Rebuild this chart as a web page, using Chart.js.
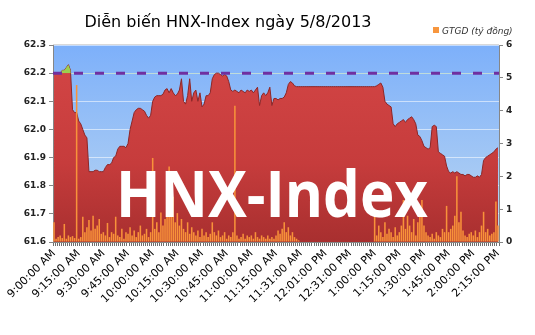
<!DOCTYPE html>
<html>
<head>
<meta charset="utf-8">
<script src="https://cdn.jsdelivr.net/npm/chart.js@4.4.1/dist/chart.umd.min.js"></script>
<style>
    html, body { margin: 0; padding: 0; background: #fff; }
</style>
</head>
<body>
<canvas id="myChart" width="535" height="335"></canvas>
<script>
// tick labels on the time axis (one every 12 sessions)
var timeTicks = ['9:00:00 AM', '9:15:00 AM', '9:30:00 AM', '9:45:00 AM', '10:00:00 AM', '10:15:00 AM',
    '10:30:00 AM', '10:45:00 AM', '11:00:00 AM', '11:15:00 AM', '11:31:00 AM', '12:01:00 PM',
    '12:31:00 PM', '1:00:00 PM', '1:15:00 PM', '1:30:00 PM', '1:45:00 PM', '2:00:00 PM', '2:15:00 PM'];
var tickEvery = 12;

// HNX-Index level
var hnxIndex = [
    62.20, 62.20, 62.20, 62.20, 62.21, 62.21, 62.22, 62.23, 62.21, 62.07, 62.06, 62.06,
    62.03, 62.02, 62.00, 61.98, 61.97, 61.85, 61.85, 61.85, 61.855, 61.855, 61.85, 61.85,
    61.85, 61.865, 61.875, 61.875, 61.88, 61.90, 61.905, 61.93, 61.94, 61.94, 61.94, 61.935,
    61.95, 62.00, 62.03, 62.06, 62.07, 62.075, 62.075, 62.07, 62.065, 62.05, 62.04, 62.05,
    62.10, 62.115, 62.12, 62.12, 62.12, 62.125, 62.14, 62.145, 62.13, 62.145, 62.13, 62.12,
    62.125, 62.14, 62.18, 62.10, 62.09, 62.12, 62.18, 62.10, 62.13, 62.14, 62.10, 62.13,
    62.08, 62.09, 62.12, 62.12, 62.13, 62.18, 62.195, 62.20, 62.20, 62.195, 62.19, 62.195,
    62.19, 62.17, 62.14, 62.135, 62.14, 62.135, 62.13, 62.14, 62.135, 62.13, 62.14, 62.135,
    62.14, 62.13, 62.14, 62.15, 62.085, 62.12, 62.13, 62.12, 62.13, 62.15, 62.085, 62.11,
    62.11, 62.105, 62.11, 62.11, 62.115, 62.13, 62.16, 62.17, 62.165, 62.155, 62.152, 62.152,
    62.152, 62.152, 62.152, 62.152, 62.152, 62.152, 62.152, 62.152, 62.152, 62.152, 62.152, 62.152,
    62.152, 62.152, 62.152, 62.152, 62.152, 62.152, 62.152, 62.152, 62.152, 62.152, 62.152, 62.152,
    62.152, 62.152, 62.152, 62.152, 62.152, 62.152, 62.152, 62.152, 62.152, 62.152, 62.152, 62.152,
    62.152, 62.155, 62.16, 62.165, 62.15, 62.10, 62.09, 62.085, 62.08, 62.02, 62.01, 62.02,
    62.025, 62.03, 62.035, 62.025, 62.035, 62.04, 62.045, 62.035, 62.02, 61.98, 61.975, 61.96,
    61.94, 61.935, 61.93, 61.935, 62.01, 62.015, 62.01, 61.92, 61.915, 61.91, 61.905, 61.87,
    61.85, 61.845, 61.85, 61.845, 61.85, 61.845, 61.84, 61.84, 61.835, 61.84, 61.84, 61.835,
    61.83, 61.83, 61.835, 61.83, 61.84, 61.89, 61.90, 61.905, 61.91, 61.915, 61.92, 61.93, 61.935
];

// GTGD (ty dong) per session
var gtgd = [
    0.6, 0.1, 0.15, 0.2, 0.12, 0.55, 0.1, 0.2, 0.15, 0.18, 0.12, 4.78,
    0.1, 0.15, 0.77, 0.3, 0.45, 0.67, 0.35, 0.8, 0.4, 0.5, 0.7, 0.25,
    0.3, 0.2, 0.58, 0.15, 0.3, 0.25, 0.77, 0.2, 0.15, 0.4, 0.1, 0.3,
    0.25, 0.45, 0.2, 0.35, 0.15, 0.3, 0.5, 0.2, 0.25, 0.4, 0.15, 0.3,
    2.56, 0.4, 0.6, 0.3, 0.9, 0.5, 0.7, 1.1, 2.3, 0.8, 1.38, 0.6,
    0.88, 0.5, 0.7, 0.4, 0.3, 0.6, 0.25, 0.45, 0.3, 0.2, 0.35, 0.15,
    0.4, 0.2, 0.3, 0.15, 0.25, 0.6, 0.3, 0.2, 0.35, 0.15, 0.2, 0.3,
    0.1, 0.2, 0.15, 0.3, 4.15, 0.2, 0.1, 0.15, 0.25, 0.1, 0.2, 0.15,
    0.2, 0.1, 0.3, 0.15, 0.1, 0.2, 0.15, 0.1, 0.2, 0.1, 0.15, 0.1,
    0.2, 0.35, 0.25, 0.4, 0.6, 0.3, 0.45, 0.2, 0.3, 0.15, 0.1, 0.05,
    0, 0, 0, 0, 0, 0, 0, 0, 0, 0, 0, 0,
    0, 0, 0, 0, 0, 0, 0, 0, 0, 0, 0, 0,
    0, 0, 0, 0, 0, 0, 0, 0, 0, 0, 0, 0,
    0.77, 0.2, 0.5, 0.3, 0.15, 0.6, 0.25, 0.4, 0.3, 0.15, 0.45, 0.2,
    0.3, 0.5, 1.28, 0.4, 0.8, 0.5, 0.3, 0.7, 0.2, 0.6, 0.9, 1.28,
    0.5, 0.3, 0.2, 0.15, 0.25, 0.1, 0.3, 0.2, 0.15, 0.4, 0.3, 1.1,
    0.3, 0.4, 0.5, 0.8, 2.0, 0.6, 0.92, 0.35, 0.2, 0.15, 0.25, 0.3,
    0.2, 0.35, 0.15, 0.3, 0.5, 0.92, 0.3, 0.4, 0.2, 0.25, 0.3, 1.23, 0.5
];

var refLevel = 62.2; // tham chieu
var chartTitle = 'Diễn biến HNX-Index ngày 5/8/2013';
var legendText = 'GTGD (tỷ đồng)';

// one category per session, label only every 12th
var labels = hnxIndex.map(function (v, i) {
    return i % tickEvery === 0 ? timeTicks[i / tickEvery] : '';
});

var decor = {
    id: 'decor',
    beforeDraw: function (chart) {
        var c = chart.ctx, a = chart.chartArea;
        var g = c.createLinearGradient(0, a.top, 0, a.bottom);
        g.addColorStop(0, '#7db0fa');
        g.addColorStop(1, '#bcd7f1');
        c.save();
        c.fillStyle = g;
        c.fillRect(a.left, a.top, a.right - a.left, a.bottom - a.top);
        c.strokeStyle = '#d9d9d9';
        c.lineWidth = 1;
        c.beginPath();
        c.moveTo(a.left, a.top - 0.5);
        c.lineTo(a.right, a.top - 0.5);
        c.stroke();
        // title
        c.fillStyle = '#000';
        c.font = '16px "DejaVu Sans"';
        c.textAlign = 'center';
        c.textBaseline = 'alphabetic';
        c.fillText(chartTitle, 228, 27);
        // legend
        c.fillStyle = '#f7963e';
        c.fillRect(433, 27, 6, 6);
        c.fillStyle = '#333';
        c.font = 'italic 9px "DejaVu Sans"';
        c.textAlign = 'left';
        c.fillText(legendText, 442, 34);
        c.restore();
    },
    afterDatasetsDraw: function (chart) {
        var c = chart.ctx, a = chart.chartArea;
        var y = chart.scales.y.getPixelForValue(refLevel);
        c.save();
        c.strokeStyle = '#7030a0';
        c.lineWidth = 3;
        c.setLineDash([9, 12]);
        c.beginPath();
        c.moveTo(a.left, y);
        c.lineTo(a.right, y);
        c.stroke();
        c.setLineDash([]);
        // watermark
        c.fillStyle = '#fff';
        c.font = 'bold 64px "Open Sans"';
        c.textAlign = 'center';
        c.textBaseline = 'alphabetic';
        c.fillText('HNX-Index', 272, 217, 312);
        c.restore();
    }
};

var ctx = document.getElementById('myChart').getContext('2d');
var chart = new Chart(ctx, {
    type: 'bar',
    data: {
        labels: labels,
        datasets: [{
            type: 'bar',
            label: legendText,
            data: gtgd,
            yAxisID: 'y1',
            backgroundColor: '#f8923a',
            barPercentage: 0.75,
            categoryPercentage: 1.0,
            order: 0
        },
        {
            type: 'line',
            label: 'above',
            data: hnxIndex,
            yAxisID: 'y',
            borderWidth: 0,
            pointRadius: 0,
            fill: { target: { value: refLevel }, above: '#9ccf4f', below: 'rgba(0,0,0,0)' },
            order: 1
        },
        {
            type: 'line',
            label: 'HNX-Index',
            data: hnxIndex,
            yAxisID: 'y',
            borderColor: '#8e2626',
            borderWidth: 1,
            pointRadius: 0,
            tension: 0,
            fill: 'start',
            backgroundColor: function (context) {
                var a = context.chart.chartArea;
                if (!a) return '#c43b3b';
                var g = context.chart.ctx.createLinearGradient(0, a.top, 0, a.bottom);
                g.addColorStop(0, '#d44646');
                g.addColorStop(0.6, '#c63c3c');
                g.addColorStop(1, '#a82f2f');
                return g;
            },
            order: 2
        }]
    },
    options: {
        responsive: false,
        animation: false,
        layout: { padding: { top: 45, left: 0, right: 0, bottom: 0 } },
        plugins: {
            legend: { display: false },
            title: { display: false },
            tooltip: { enabled: false }
        },
        scales: {
            x: {
                offset: true,
                grid: { drawOnChartArea: false, tickLength: 4, color: '#6e6e6e', offset: true },
                border: { color: '#868686' },
                ticks: {
                    autoSkip: false,
                    maxRotation: 45,
                    minRotation: 45,
                    padding: 1,
                    color: '#000',
                    font: { family: 'DejaVu Sans', size: 11 },
                    callback: function (v, i) { return labels[i]; }
                },
                afterFit: function (scale) { scale.height = 93; }
            },
            y: {
                position: 'left',
                min: 61.6,
                max: 62.3,
                grid: { color: 'rgba(255,255,255,0.55)', tickColor: '#868686', tickLength: 4 },
                border: { color: '#868686' },
                ticks: {
                    stepSize: 0.1,
                    color: '#222',
                    font: { family: 'DejaVu Sans', size: 9, weight: 'bold' },
                    callback: function (v) { return v.toFixed(1); }
                },
                afterFit: function (scale) { scale.width = 53; }
            },
            y1: {
                position: 'right',
                min: 0,
                max: 6,
                grid: { drawOnChartArea: false, color: '#868686', tickLength: 4 },
                border: { color: '#868686' },
                ticks: {
                    stepSize: 1,
                    color: '#222',
                    font: { family: 'DejaVu Sans', size: 9, weight: 'bold' }
                },
                afterFit: function (scale) { scale.width = 36; }
            }
        }
    },
    plugins: [decor]
});
</script>
</body>
</html>
